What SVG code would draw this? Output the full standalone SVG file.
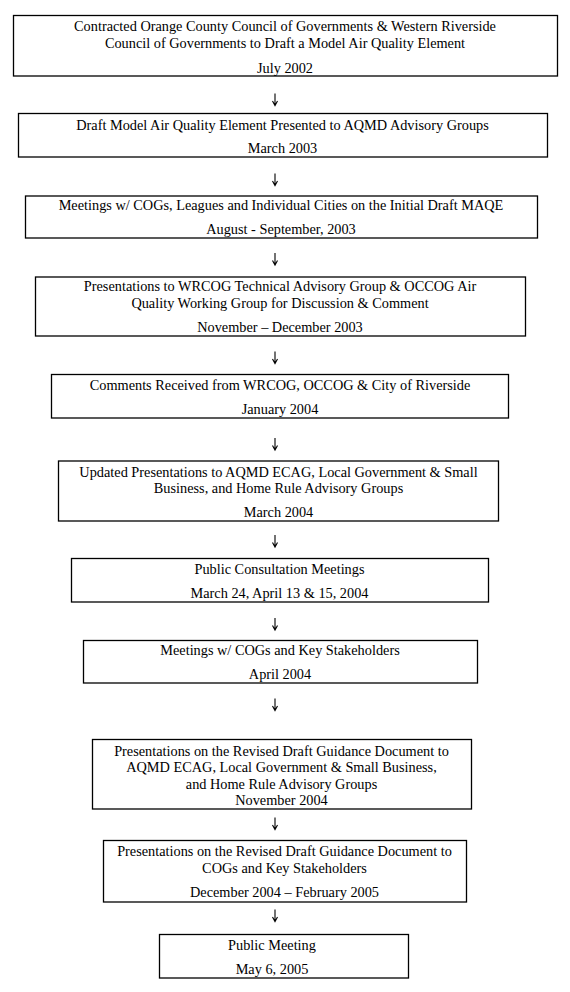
<svg xmlns="http://www.w3.org/2000/svg" width="570" height="992" viewBox="0 0 570 992">
<style>
.box{fill:#fff;stroke:#000;stroke-width:1.3}
.t{font-family:"Liberation Serif","Times New Roman",serif;font-size:14.3px;fill:#000;text-anchor:middle}
.c{fill:none;stroke:#000;stroke-width:1.1}
</style>
<rect width="570" height="992" fill="#fff"/>
<g id="n1"><rect class="box" x="13.5" y="15.5" width="544" height="60.5"/>
<text class="t" x="285" y="31">Contracted Orange County Council of Governments &amp; Western Riverside</text>
<text class="t" x="285" y="48">Council of Governments to Draft a Model Air Quality Element</text>
<text class="t" x="285" y="72.5">July 2002</text></g>
<g id="n2"><rect class="box" x="18.5" y="113.5" width="529" height="43.5"/>
<text class="t" x="282.5" y="129.5">Draft Model Air Quality Element Presented to AQMD Advisory Groups</text>
<text class="t" x="282.5" y="153">March 2003</text></g>
<g id="n3"><rect class="box" x="25.5" y="196" width="512" height="42"/>
<text class="t" x="281" y="210">Meetings w/ COGs, Leagues and Individual Cities on the Initial Draft MAQE</text>
<text class="t" x="281" y="233.5">August - September, 2003</text></g>
<g id="n4"><rect class="box" x="35.5" y="277" width="490" height="59"/>
<text class="t" x="280" y="291">Presentations to WRCOG Technical Advisory Group &amp; OCCOG Air</text>
<text class="t" x="280" y="307.5">Quality Working Group for Discussion &amp; Comment</text>
<text class="t" x="280" y="331.5">November – December 2003</text></g>
<g id="n5"><rect class="box" x="51.5" y="374.5" width="457" height="43.5"/>
<text class="t" x="280" y="390">Comments Received from WRCOG, OCCOG &amp; City of Riverside</text>
<text class="t" x="280" y="414">January 2004</text></g>
<g id="n6"><rect class="box" x="58.5" y="461" width="440" height="60"/>
<text class="t" x="278.5" y="476.5">Updated Presentations to AQMD ECAG, Local Government &amp; Small</text>
<text class="t" x="278.5" y="493">Business, and Home Rule Advisory Groups</text>
<text class="t" x="278.5" y="517">March 2004</text></g>
<g id="n7"><rect class="box" x="71.5" y="558.5" width="417" height="43.5"/>
<text class="t" x="279.5" y="574">Public Consultation Meetings</text>
<text class="t" x="279.5" y="597.5">March 24, April 13 &amp; 15, 2004</text></g>
<g id="n8"><rect class="box" x="83.5" y="640.5" width="394" height="42.5"/>
<text class="t" x="280" y="655">Meetings w/ COGs and Key Stakeholders</text>
<text class="t" x="280" y="679">April 2004</text></g>
<g id="n9"><rect class="box" x="92.5" y="739.5" width="379" height="69.5"/>
<text class="t" x="281.5" y="755.5">Presentations on the Revised Draft Guidance Document to</text>
<text class="t" x="281.5" y="772">AQMD ECAG, Local Government &amp; Small Business,</text>
<text class="t" x="281.5" y="788.5">and Home Rule Advisory Groups</text>
<text class="t" x="281.5" y="804.5">November 2004</text></g>
<g id="n10"><rect class="box" x="103.5" y="840.5" width="363" height="61.5"/>
<text class="t" x="284.5" y="856">Presentations on the Revised Draft Guidance Document to</text>
<text class="t" x="284.5" y="872.5">COGs and Key Stakeholders</text>
<text class="t" x="284.5" y="897">December 2004 – February 2005</text></g>
<g id="n11"><rect class="box" x="159.5" y="934.5" width="249" height="43.5"/>
<text class="t" x="272" y="950">Public Meeting</text>
<text class="t" x="272" y="973.5">May 6, 2005</text></g>
<g id="connectors">
<path class="c" d="M275,93.5V105.5M272.5,101L275,105.5L277.5,101"/>
<path class="c" d="M275,173.5V185.5M272.5,181L275,185.5L277.5,181"/>
<path class="c" d="M275,253V265M272.5,260.5L275,265L277.5,260.5"/>
<path class="c" d="M275,351.5V363.5M272.5,359L275,363.5L277.5,359"/>
<path class="c" d="M275,438V450M272.5,445.5L275,450L277.5,445.5"/>
<path class="c" d="M275,535V547M272.5,542.5L275,547L277.5,542.5"/>
<path class="c" d="M275,618V630M272.5,625.5L275,630L277.5,625.5"/>
<path class="c" d="M275,698.5V710.5M272.5,706L275,710.5L277.5,706"/>
<path class="c" d="M275,817.5V829.5M272.5,825L275,829.5L277.5,825"/>
<path class="c" d="M275,909.5V921.5M272.5,917L275,921.5L277.5,917"/>
</g>
</svg>
